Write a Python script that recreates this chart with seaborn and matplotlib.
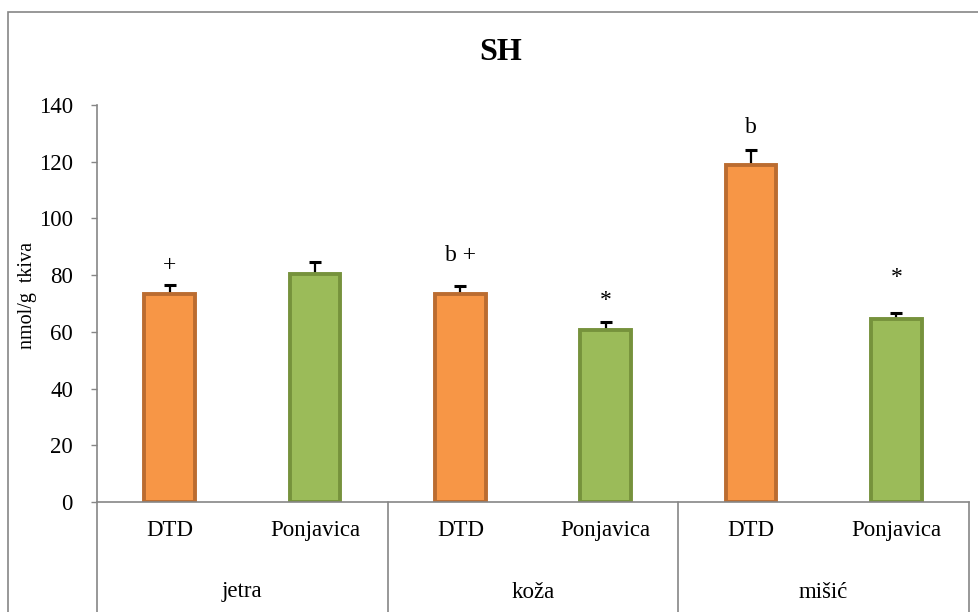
"""SH levels (nmol/g tkiva) by tissue and site, Excel-style grouped bar chart."""

import matplotlib

matplotlib.use("Agg")

import matplotlib.colors as mcolors
import matplotlib.pyplot as plt
import pandas as pd
import seaborn as sns
from matplotlib.patches import Rectangle

# --- data ---
tissues = ["jetra", "koža", "mišić"]
sites = ["DTD", "Ponjavica"]
sh_values = [73.5, 80.5, 73.5, 60.5, 119.0, 64.5]
sh_errors = [3.0, 4.0, 2.5, 3.0, 5.0, 2.0]
marks = ["+", "", "b +", "*", "b", "*"]
mark_y = [83.5, 0.0, 87.0, 71.0, 132.0, 79.0]
y_ticks = [0, 20, 40, 60, 80, 100, 120, 140]

ORANGE, ORANGE_EDGE = "#f79646", "#bb6c30"
GREEN, GREEN_EDGE = "#9bbb59", "#76923c"
GRAY = "#868686"

sns.set_theme(style="white")
plt.rcParams["font.family"] = ["Liberation Serif", "DejaVu Serif"]
plt.rcParams["text.color"] = "black"
plt.rcParams["axes.labelcolor"] = "black"
plt.rcParams["xtick.color"] = "black"
plt.rcParams["ytick.color"] = "black"

df = pd.DataFrame(
    {
        "slot": [f"{t}|{s}" for t in tissues for s in sites],
        "site": [s for _ in tissues for s in sites],
        "value": sh_values,
    }
)

fig = plt.figure(figsize=(9.79, 6.12), dpi=100)
ax = fig.add_axes([97 / 979, 1 - 502 / 612, 872 / 979, 397 / 612])

sns.barplot(
    data=df,
    x="slot",
    y="value",
    hue="site",
    palette={"DTD": ORANGE, "Ponjavica": GREEN},
    saturation=1,
    dodge=False,
    width=0.35,
    legend=False,
    ax=ax,
)
edge_map = {ORANGE: ORANGE_EDGE, GREEN: GREEN_EDGE}
for bar in ax.patches:
    face = mcolors.to_hex(bar.get_facecolor())
    bar.set_edgecolor(edge_map.get(face, GRAY))
    bar.set_linewidth(2.8)
    bar.set_zorder(2)

xpos = list(range(len(df)))
ax.errorbar(
    xpos,
    df["value"],
    yerr=[[0] * len(df), sh_errors],
    fmt="none",
    ecolor="black",
    elinewidth=1.6,
    capsize=4.5,
    capthick=2.2,
    zorder=1,
)

for x, txt, y in zip(xpos, marks, mark_y):
    if txt:
        ax.text(x, y, txt, ha="center", va="center", fontsize=17)

ax.set_ylim(0, 140)
ax.set_xlim(-0.5, len(df) - 0.5)
ax.set_yticks(y_ticks)
ax.set_xticks(xpos)
ax.set_xticklabels([s for _ in tissues for s in sites])
ax.tick_params(axis="y", length=4.3, width=1, color=GRAY, pad=13, labelsize=16.5,
               direction="out", left=True)
ax.tick_params(axis="x", length=0, pad=13, labelsize=16.5)
ax.set_xlabel("")
ax.set_ylabel("nmol/g  tkiva", fontsize=14.5)
ax.yaxis.set_label_coords(-0.069, 0.52)

for side in ["top", "right"]:
    ax.spines[side].set_visible(False)
for side in ["left", "bottom"]:
    ax.spines[side].set_color(GRAY)
    ax.spines[side].set_linewidth(1.2)

# group separators and group labels (multi-level category axis)
trans = ax.get_xaxis_transform()
depth = -110 / 397
for b in [-0.5, 1.5, 3.5, 5.5]:
    ax.plot([b, b], [0, depth], color=GRAY, lw=1.2, transform=trans, clip_on=False)
for i, t in enumerate(tissues):
    ax.text(2 * i + 0.5, -90 / 397, t, ha="center", va="center", fontsize=16.5,
            transform=trans)

fig.text(0.511, 0.915, "SH", ha="center", va="center", fontsize=23, fontweight="bold")

fig.patches.append(
    Rectangle((8 / 979, -0.1), 1.2, 1.1 - 12 / 612, transform=fig.transFigure,
              fill=False, edgecolor=GRAY, linewidth=1.2)
)

fig.savefig("out.png", dpi=100)
